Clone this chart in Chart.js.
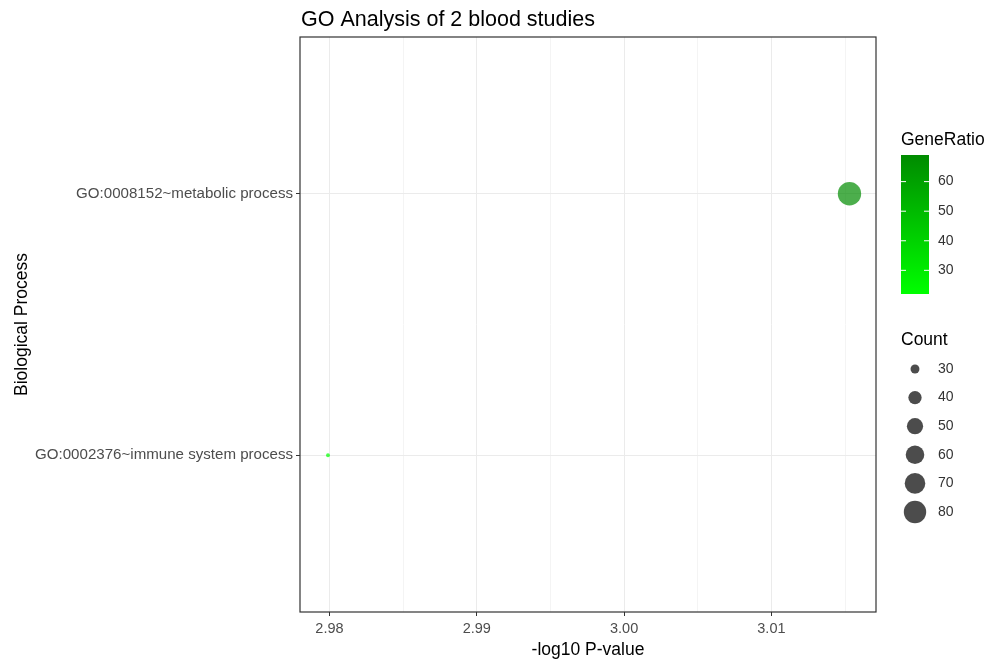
<!DOCTYPE html>
<html>
<head>
<meta charset="utf-8">
<script src="https://cdn.jsdelivr.net/npm/chart.js@4.4.0/dist/chart.umd.min.js"></script>
<style>
    html, body { margin: 0; padding: 0; background: #ffffff; }
    #wrap { width: 1000px; height: 664px; }
</style>
</head>
<body>
<div id="wrap"><canvas id="goChart" width="1000" height="664"></canvas></div>
<script>
// --- DATA ---
const terms = ['GO:0002376~immune system process', 'GO:0008152~metabolic process'];
const termPos = [1, 2];
const pValues = [2.9799, 3.0153];      // -log10 P-value
const counts = [26, 86];
const geneRatios = [22, 69];
const xTicks = [2.98, 2.99, 3.00, 3.01];
const ratioBreaks = [30, 40, 50, 60];
const countBreaks = [30, 40, 50, 60, 70, 80];

const chartTitle = 'GO Analysis of 2 blood studies';

// --- SCALES FOR SIZE / COLOUR (like ggplot defaults) ---
const countMin = Math.min(...counts), countMax = Math.max(...counts);
const ratioMin = Math.min(...geneRatios), ratioMax = Math.max(...geneRatios);
const lowColor = [0, 255, 0];
const highColor = [0, 139, 0];

function radiusFor(c) {
    const t = (c - countMin) / (countMax - countMin);
    return 1.95 * (1 + 5 * Math.sqrt(Math.max(0, t)));
}

function colorFor(v, alpha) {
    const t = (v - ratioMin) / (ratioMax - ratioMin);
    const rgb = lowColor.map((c, i) => Math.round(c + (highColor[i] - c) * t));
    return `rgba(${rgb[0]}, ${rgb[1]}, ${rgb[2]}, ${alpha})`;
}

const minorTicks = xTicks.map(v => +(v + 0.005).toFixed(3));
const isMajor = v => xTicks.some(t => Math.abs(t - v) < 1e-6);

const FONT = "'Liberation Sans', Arial, sans-serif";
Chart.defaults.font.family = FONT;

// --- EXTRA DRAWING: title, panel border, legends ---
const decorPlugin = {
    id: 'decor',
    afterDraw(chart) {
        const ctx = chart.ctx;
        const area = chart.chartArea;
        ctx.save();

        // panel border
        ctx.strokeStyle = '#333333';
        ctx.lineWidth = 1.2;
        ctx.strokeRect(area.left, area.top, area.right - area.left, area.bottom - area.top);

        // title
        ctx.fillStyle = '#000000';
        ctx.font = `21.5px ${FONT}`;
        ctx.textAlign = 'left';
        ctx.textBaseline = 'alphabetic';
        ctx.fillText(chartTitle, area.left + 1, 26);

        // GeneRatio colour bar
        const barX = 901, barW = 28, barTop = 155, barBottom = 294;
        ctx.font = `17.5px ${FONT}`;
        ctx.fillStyle = '#000000';
        ctx.textBaseline = 'middle';
        ctx.fillText('GeneRatio', barX, 140);

        const grad = ctx.createLinearGradient(0, barBottom, 0, barTop);
        grad.addColorStop(0, colorFor(ratioMin, 1));
        grad.addColorStop(1, colorFor(ratioMax, 1));
        ctx.fillStyle = grad;
        ctx.fillRect(barX, barTop, barW, barBottom - barTop);

        ctx.font = `14px ${FONT}`;
        ratioBreaks.forEach(v => {
            const y = barBottom - (v - ratioMin) / (ratioMax - ratioMin) * (barBottom - barTop);
            ctx.strokeStyle = '#ffffff';
            ctx.lineWidth = 1;
            ctx.beginPath();
            ctx.moveTo(barX, y); ctx.lineTo(barX + 5, y);
            ctx.moveTo(barX + barW - 5, y); ctx.lineTo(barX + barW, y);
            ctx.stroke();
            ctx.fillStyle = '#333333';
            ctx.fillText(String(v), 938, y);
        });

        // Count size legend
        ctx.font = `17.5px ${FONT}`;
        ctx.fillStyle = '#000000';
        ctx.fillText('Count', barX, 340);
        ctx.font = `14px ${FONT}`;
        countBreaks.forEach((v, i) => {
            const y = 369 + i * 28.6;
            ctx.fillStyle = 'rgba(0, 0, 0, 0.7)';
            ctx.beginPath();
            ctx.arc(915, y, radiusFor(v), 0, Math.PI * 2);
            ctx.fill();
            ctx.fillStyle = '#333333';
            ctx.fillText(String(v), 938, y);
        });

        ctx.restore();
    }
};

// --- CHART ---
const ctx = document.getElementById('goChart').getContext('2d');
new Chart(ctx, {
    type: 'bubble',
    data: {
        datasets: [{
            data: pValues.map((p, i) => ({ x: p, y: termPos[i], r: radiusFor(counts[i]) })),
            backgroundColor: geneRatios.map(g => colorFor(g, 0.7)),
            borderWidth: 0,
            hoverBorderWidth: 0
        }]
    },
    options: {
        responsive: false,
        devicePixelRatio: 1,
        animation: false,
        layout: { padding: { left: 0, right: 124, top: 37, bottom: 0 } },
        plugins: {
            legend: { display: false },
            tooltip: { enabled: false },
            title: { display: false }
        },
        scales: {
            x: {
                type: 'linear',
                min: 2.978,
                max: 3.0171,
                afterBuildTicks: scale => {
                    scale.ticks = [...xTicks, ...minorTicks]
                        .filter(v => v >= scale.min && v <= scale.max)
                        .sort((a, b) => a - b)
                        .map(v => ({ value: v }));
                },
                afterFit: scale => { scale.height = 52; },
                ticks: {
                    autoSkip: false,
                    maxRotation: 0,
                    padding: 4,
                    color: '#4D4D4D',
                    font: { size: 14.5 },
                    callback: v => isMajor(v) ? v.toFixed(2) : ''
                },
                grid: {
                    color: c => isMajor(c.tick.value) ? '#EBEBEB' : '#F4F4F4',
                    lineWidth: 1,
                    drawTicks: true,
                    tickLength: 4,
                    tickColor: c => isMajor(c.tick.value) ? '#333333' : 'rgba(0,0,0,0)'
                },
                border: { display: false },
                title: {
                    display: true,
                    text: '-log10 P-value',
                    color: '#000000',
                    font: { size: 17.5 },
                    padding: { top: 0, bottom: 3.5 }
                }
            },
            y: {
                type: 'linear',
                min: 0.4,
                max: 2.6,
                afterBuildTicks: scale => {
                    scale.ticks = termPos.map(v => ({ value: v }));
                },
                afterFit: scale => { scale.width = 300; },
                ticks: {
                    autoSkip: false,
                    padding: 3,
                    color: '#4D4D4D',
                    font: { size: 15.1 },
                    callback: v => terms[termPos.indexOf(v)]
                },
                grid: {
                    color: '#EBEBEB',
                    lineWidth: 1,
                    drawTicks: true,
                    tickLength: 4,
                    tickColor: '#333333'
                },
                border: { display: false },
                title: {
                    display: true,
                    text: 'Biological Process',
                    color: '#000000',
                    font: { size: 17.5 },
                    padding: { top: 11.5, bottom: 0 }
                }
            }
        }
    },
    plugins: [decorPlugin]
});
</script>
</body>
</html>
